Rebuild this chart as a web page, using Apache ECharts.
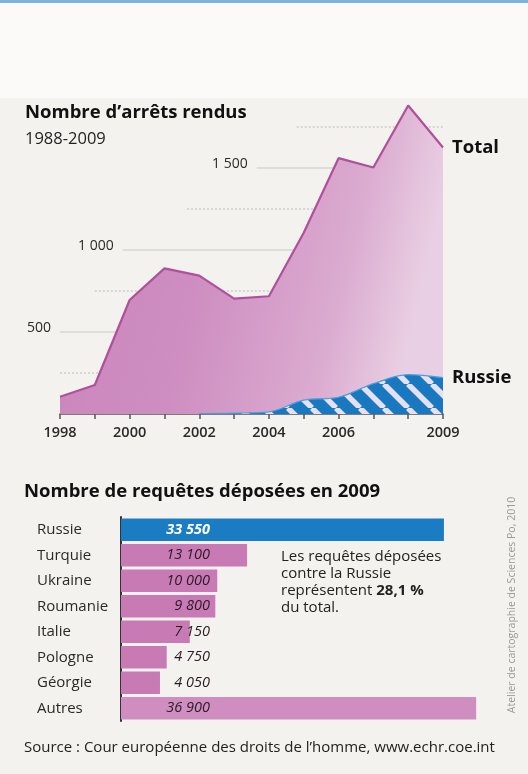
<!DOCTYPE html>
<html><head><meta charset="utf-8">
<script src="https://cdn.jsdelivr.net/npm/echarts@6/dist/echarts.min.js"></script>
<style>html,body{margin:0;padding:0;background:#f4f2ef}#c{width:528px;height:774px}</style>
</head><body><div id="c"></div>
<script>
// ---- data ----
var years = [1998, 1999, 2000, 2001, 2002, 2003, 2004, 2005, 2006, 2007, 2008, 2009];
var totalValues = [105, 177, 695, 888, 844, 703, 718, 1105, 1560, 1503, 1881, 1625];
var russiaValues = [null, null, null, null, 2, 5, 13, 85, 102, 185, 240, 222];
var yearLabels = [1998, 2000, 2002, 2004, 2006, 2009];
var gridValues = [250, 500, 750, 1000, 1250, 1500, 1750];
var labelledGridValues = [500, 1000, 1500];

var countries = ['Russie', 'Turquie', 'Ukraine', 'Roumanie', 'Italie', 'Pologne', 'Géorgie', 'Autres'];
var requests = [33550, 13100, 10000, 9800, 7150, 4750, 4050, 36900];

function fmt(v) { return String(v).replace(/\B(?=(\d{3})+(?!\d))/g, ' '); }

// striped pattern for Russia
var tile = document.createElement('canvas');
var S = 24; tile.width = S; tile.height = S;
var tc = tile.getContext('2d');
tc.fillStyle = '#1878c0'; tc.fillRect(0, 0, S, S);
tc.strokeStyle = 'rgba(236,228,244,0.97)'; tc.lineWidth = 5.5;
[-S, 0, S].forEach(function (x0) { tc.beginPath(); tc.moveTo(x0, 0); tc.lineTo(x0 + S, S); tc.stroke(); });

// gridline start years (layout)
var gridStart = {250: 1998, 500: 1998, 750: 1999, 1000: 1999.8, 1250: 2001.65, 1500: 2003.65, 1750: 2004.8};

var chart = echarts.init(document.getElementById('c'), null, {renderer: 'canvas'});
var FONT = '"Open Sans", "Noto Sans", sans-serif';

var option = {
  backgroundColor: '#f4f2ef',
  animation: false,
  textStyle: {fontFamily: FONT},
  grid: [
    {left: 60, right: 85, top: 86, bottom: 360},
    {left: 121, right: 22, top: 517, bottom: 53}
  ],
  xAxis: [
    {type: 'value', gridIndex: 0, min: 1998, max: 2009, interval: 1,
     axisLine: {show: true, lineStyle: {color: '#555', width: 1.5}},
     axisTick: {show: true, length: 5, lineStyle: {color: '#555', width: 1.5}},
     splitLine: {show: false},
     axisLabel: {margin: 11, color: '#2a2a2a', fontSize: 14.5, fontWeight: 600, fontFamily: FONT,
       formatter: function (v) { return yearLabels.indexOf(v) >= 0 ? String(v) : ''; }}},
    {type: 'value', gridIndex: 1, min: 0, max: 40000, show: false}
  ],
  yAxis: [
    {type: 'value', gridIndex: 0, min: 0, max: 2000, show: false},
    {type: 'category', gridIndex: 1, data: countries, inverse: true,
     axisLine: {show: true, lineStyle: {color: '#333', width: 2}},
     axisTick: {show: false},
     axisLabel: {align: 'left', margin: 84, color: '#2a2a2a', fontSize: 15, fontFamily: FONT}}
  ],
  series: [
    {type: 'custom', xAxisIndex: 0, yAxisIndex: 0, z: 1, silent: true,
     data: gridValues.map(function (v) { return [gridStart[v], v]; }),
     renderItem: function (params, api) {
       var v = api.value(1);
       var p0 = api.coord([api.value(0), v]);
       var p1 = api.coord([2009, v]);
       var dashed = labelledGridValues.indexOf(v) < 0;
       var children = [{type: 'line', shape: {x1: p0[0], y1: p0[1], x2: p1[0], y2: p1[1]},
         style: {stroke: dashed ? '#b9b9b9' : '#c9c9c9', lineWidth: 1, lineDash: dashed ? [2, 2] : null}}];
       if (!dashed) {
         children.push({type: 'text', x: p0[0] - 9, y: p0[1] - 4,
           style: {text: fmt(v), fill: '#2a2a2a', font: '14px ' + FONT, align: 'right', verticalAlign: 'middle'}});
       }
       return {type: 'group', children: children};
     }},
    {name: 'Total', type: 'line', xAxisIndex: 0, yAxisIndex: 0, z: 3,
     data: years.map(function (y, i) { return [y, totalValues[i]]; }),
     symbol: 'none',
     lineStyle: {color: '#b0509a', width: 2.2},
     areaStyle: {opacity: 1, color: new echarts.graphic.LinearGradient(0, 0, 1, 0.3, [
       {offset: 0, color: '#c984b9'}, {offset: 0.45, color: '#ce8ec1'},
       {offset: 0.8, color: '#dbabd0'}, {offset: 1, color: '#e9cfe3'}])},
     endLabel: {show: true, formatter: 'Total', distance: 9, color: '#111', fontSize: 18.5, fontWeight: 'bold', fontFamily: FONT}},
    {name: 'Russie', type: 'line', xAxisIndex: 0, yAxisIndex: 0, z: 4,
     data: years.map(function (y, i) { return [y, russiaValues[i]]; }),
     symbol: 'none', smooth: 0.35,
     lineStyle: {color: '#4a9ee0', width: 1.2},
     areaStyle: {opacity: 1, color: {image: tile, repeat: 'repeat'}},
     endLabel: {show: true, formatter: 'Russie', distance: 9, color: '#111', fontSize: 18.5, fontWeight: 'bold', fontFamily: FONT}},
    {type: 'bar', xAxisIndex: 1, yAxisIndex: 1, barCategoryGap: '11%',
     data: requests.map(function (v, i) {
       return {value: v,
         itemStyle: {color: i === 0 ? '#1a7cc2' : (i === requests.length - 1 ? '#cf8dc0' : '#c87ab4')},
         label: i === 0 ? {color: '#fff', fontWeight: 'bold'} : {}};
     }),
     label: {show: true, position: [89, '50%'], align: 'right', verticalAlign: 'middle',
       fontStyle: 'italic', fontSize: 14.5, color: '#2a1a26', fontFamily: FONT,
       formatter: function (p) { return fmt(p.value); }}}
  ],
  graphic: [
    {type: 'rect', z: -10, silent: true, shape: {x: 0, y: 3, width: 528, height: 95}, style: {fill: '#fbfaf8'}},
    {type: 'rect', z: -9, silent: true, shape: {x: 0, y: 0, width: 528, height: 3}, style: {fill: '#7cb4df'}},
    {type: 'text', x: 25, y: 113, style: {text: 'Nombre d\u2019arrêts rendus', fill: '#111', font: 'bold 18.5px ' + FONT, verticalAlign: 'middle'}},
    {type: 'text', x: 25, y: 139, style: {text: '1988-2009', fill: '#222', font: '16.5px ' + FONT, verticalAlign: 'middle'}},
    {type: 'text', x: 24, y: 492, style: {text: 'Nombre de requêtes déposées en 2009', fill: '#111', font: 'bold 18.5px ' + FONT, verticalAlign: 'middle'}},
    {type: 'text', x: 281, y: 548, style: {
      text: 'Les requêtes déposées\ncontre la Russie\nreprésentent {b|28,1 %}\ndu total.',
      fill: '#222', font: '15px ' + FONT, lineHeight: 17,
      rich: {b: {fontWeight: 'bold', fontSize: 15, fontFamily: FONT, fill: '#222', lineHeight: 17}}}},
    {type: 'text', x: 512, y: 605, rotation: Math.PI / 2, style: {
      text: 'Atelier de cartographie de Sciences Po, 2010', fill: '#9a9a9a', font: '10.5px ' + FONT,
      align: 'center', verticalAlign: 'middle'}},
    {type: 'text', x: 24, y: 748, style: {text: 'Source : Cour européenne des droits de l\u2019homme, www.echr.coe.int', fill: '#222', font: '15px ' + FONT, verticalAlign: 'middle'}}
  ]
};
chart.setOption(option);
</script></body></html>
